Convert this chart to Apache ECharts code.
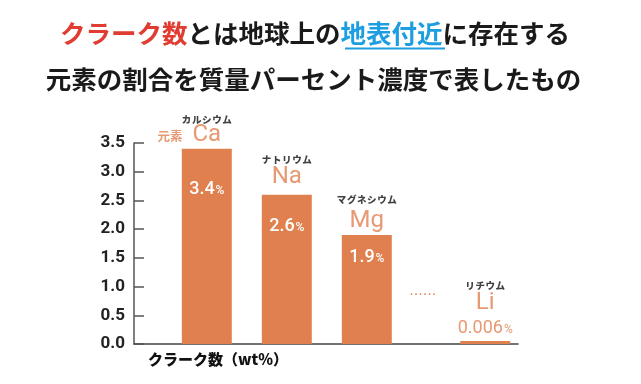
<!DOCTYPE html>
<html><head><meta charset="utf-8">
<script src="https://cdn.jsdelivr.net/npm/echarts@6/dist/echarts.min.js"></script>
<style>html,body{margin:0;padding:0;background:#fff}#c{width:641px;height:384px}</style>
</head><body><div id="c"></div>
<script>
// ---- data ----
const elements = ['Ca', 'Na', 'Mg', 'Li'];
const kanaNames = ['カルシウム', 'ナトリウム', 'マグネシウム', 'リチウム'];
const clarkeValues = [3.4, 2.6, 1.9, 0.006];
const valueTexts = ['3.4', '2.6', '1.9', '0.006'];
const yTickLabels = ['0.0', '0.5', '1.0', '1.5', '2.0', '2.5', '3.0', '3.5'];

// ---- layout / style ----
const ORANGE = '#e0804f';
const JP = '"Noto Sans CJK JP", "Noto Sans", sans-serif';
const LAT = 'Roboto, "Noto Sans", sans-serif';
// horizontal slot of each element along the (hidden) x axis; the gap before Li stands for omitted elements
const slots = [0.91, 1.91, 2.91, 4.39];
const kanaStyle = ['kS', 'kM', 'kL', 'kM'];
const topDistance = [2, 6, 2, 1];

const chart = echarts.init(document.getElementById('c'), null, {renderer: 'canvas'});

const barData = clarkeValues.map((v, i) => ({
  value: [slots[i], v],
  label: {show: i < 3}
}));

const spaced = (s) => s.split('').join('\u200a');

const nameData = clarkeValues.map((v, i) => {
  let f = '{' + kanaStyle[i] + '|' + spaced(kanaNames[i]) + '}\n';
  if (i === 0) f += '{gen|元素}{sym|' + elements[i] + '}{pad|}';
  else f += '{sym|' + elements[i] + '}';
  if (i === 3) f += '\n{val|' + valueTexts[i] + '}{pct|%}';
  return {value: [slots[i], v], label: {formatter: f, distance: topDistance[i]}};
});

const kana = (lh) => ({fontSize: 9.5, fontWeight: 900, fontFamily: JP, color: '#111', lineHeight: lh, align: 'center'});

const option = {
  animation: false,
  grid: {left: 134, right: 641 - 518, top: 143, bottom: 40, containLabel: false},
  xAxis: {
    type: 'value', min: 0, max: 4.8,
    axisLine: {show: true, onZero: false, lineStyle: {color: '#444', width: 1.5}},
    axisTick: {show: false}, axisLabel: {show: false}, splitLine: {show: false}
  },
  yAxis: {
    type: 'value', min: 0, max: 3.5, interval: 0.5,
    axisLine: {show: true, lineStyle: {color: '#555', width: 1.5}},
    axisTick: {show: true, inside: true, length: 10, lineStyle: {color: '#555', width: 1.5}},
    splitLine: {show: false},
    axisLabel: {
      margin: 9, fontSize: 17, fontWeight: 'bold', color: '#222', fontFamily: LAT,
      formatter: (v) => yTickLabels[Math.round(v / 0.5)]
    }
  },
  series: [
    {
      type: 'bar', barWidth: 50, barMinHeight: 3,
      itemStyle: {color: ORANGE},
      data: barData,
      label: {
        show: true, position: ['50%', '21%'], align: 'center', verticalAlign: 'middle',
        formatter: (p) => '{n|' + valueTexts[p.dataIndex] + '}{p|%}',
        rich: {
          n: {fontSize: 18, fontWeight: 500, fontFamily: LAT, color: '#fff'},
          p: {fontSize: 12, fontWeight: 500, fontFamily: LAT, color: '#fff', padding: [3, 0, 0, 1]}
        }
      }
    },
    {
      type: 'scatter', symbolSize: 0, silent: true, z: 5,
      data: nameData,
      label: {
        show: true, position: 'top', align: 'center',
        rich: {
          kS: kana(6), kM: kana(10), kL: kana(18),
          sym: {fontSize: 24, fontFamily: LAT, color: ORANGE, lineHeight: 24},
          gen: {fontSize: 12.5, fontWeight: 'bold', fontFamily: JP, color: ORANGE, width: 35, align: 'left', lineHeight: 24, padding: [4, 0, 0, 0]},
          pad: {width: 35},
          val: {fontSize: 18, fontFamily: LAT, color: ORANGE, lineHeight: 28},
          pct: {fontSize: 12, fontFamily: LAT, color: ORANGE, lineHeight: 28, padding: [3, 0, 0, 1]}
        }
      }
    }
  ],
  graphic: [
    {
      type: 'text', x: 315, y: 33,
      style: {
        text: '{r|クラーク数}{k|とは地球上の}{b|地表付近}{k|に存在する}',
        align: 'center', verticalAlign: 'middle',
        rich: {
          r: {fontSize: 25.5, fontWeight: 'bold', fontFamily: JP, fill: '#e03c31'},
          k: {fontSize: 25.5, fontWeight: 'bold', fontFamily: JP, fill: '#1a1a1a'},
          b: {fontSize: 25.5, fontWeight: 'bold', fontFamily: JP, fill: '#1d9ee0'}
        }
      }
    },
    {type: 'rect', shape: {x: 345, y: 47.5, width: 100, height: 2}, style: {fill: '#1d9ee0'}},
    {
      type: 'text', x: 313.5, y: 79,
      style: {
        text: '元素の割合を質量パーセント濃度で表したもの',
        align: 'center', verticalAlign: 'middle',
        font: 'bold 25.5px ' + JP, fill: '#1a1a1a'
      }
    },
    {
      type: 'text', x: 148, y: 359,
      style: {
        text: 'クラーク数（wt%）', align: 'left', verticalAlign: 'middle',
        font: '900 15px ' + JP, fill: '#111'
      }
    }
  ]
};
chart.setOption(option);

// ellipsis between Mg and Li, placed from the axis scale
const mid = chart.convertToPixel({gridIndex: 0}, [(slots[2] + slots[3]) / 2 - 0.04, 0]);
const liTop = chart.convertToPixel({gridIndex: 0}, [slots[3], clarkeValues[3]]);
chart.setOption({graphic: option.graphic.concat([{
  type: 'text', x: mid[0], y: liTop[1] - 50,
  style: {text: '……', align: 'center', verticalAlign: 'middle', font: '13.5px ' + JP, fill: ORANGE}
}])});
</script></body></html>
